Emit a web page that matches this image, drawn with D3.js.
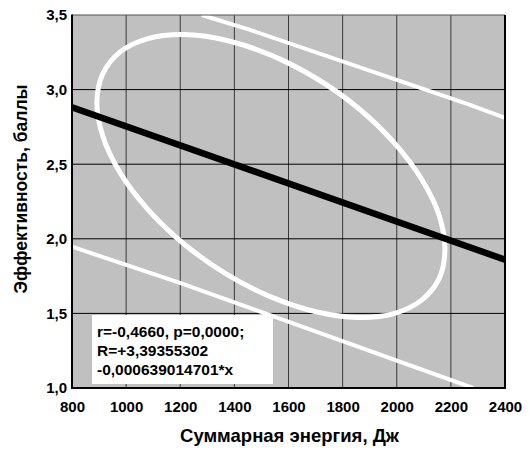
<!DOCTYPE html>
<html>
<head>
<meta charset="utf-8">
<script src="https://cdn.jsdelivr.net/npm/d3@7"></script>
<style>
  body { margin: 0; background: #fff; }
  svg { display: block; font-family: "Liberation Sans", Arial, sans-serif; font-weight: bold; }
</style>
</head>
<body>
<div id="chart"></div>
<script>
// ---- data ----
const xTicks = [800, 1000, 1200, 1400, 1600, 1800, 2000, 2200, 2400];
const yTicks = [1.0, 1.5, 2.0, 2.5, 3.0, 3.5];

// regression line endpoints
const fitX = [800, 2400];
const fitY = [2.882, 1.860];

// prediction band lines (white)
const upperX = [1280, 1458, 2271, 2400];
const upperY = [3.50, 3.40, 2.897, 2.81];
const lowerX = [800, 1199, 2282];
const lowerY = [1.947, 1.704, 1.0];

// confidence ellipse outline
const ellipseX = [2178, 2157, 2092, 1990, 1857, 1702, 1535, 1369, 1214, 1081, 978, 914,
                  892, 914, 978, 1081, 1214, 1369, 1535, 1702, 1857, 1990, 2092, 2157];
const ellipseY = [1.928, 1.735, 1.589, 1.499, 1.473, 1.511, 1.611, 1.765, 1.965, 2.196, 2.442, 2.687,
                  2.914, 3.107, 3.253, 3.342, 3.369, 3.331, 3.231, 3.076, 2.877, 2.645, 2.399, 2.155];

const statLines = ["r=-0,4660, p=0,0000;", "R=+3,39355302", "-0,000639014701*x"];
const xTitle = "Суммарная энергия, Дж";
const yTitle = "Эффективность, баллы";

// ---- drawing ----
const width = 529, height = 450;
const margin = { top: 15, right: 24, bottom: 62, left: 72 };
const x0 = margin.left, x1 = width - margin.right;
const y0 = margin.top, y1 = height - margin.bottom;

const svg = d3.select("#chart").append("svg")
  .attr("width", width)
  .attr("height", height);

const x = d3.scaleLinear().domain([800, 2400]).range([x0, x1]);
const y = d3.scaleLinear().domain([1.0, 3.5]).range([y1, y0]);
const comma = v => d3.format(".1f")(v).replace(".", ",");

svg.append("defs").append("clipPath").attr("id", "plotClip")
  .append("rect")
  .attr("x", x0).attr("y", y0)
  .attr("width", x1 - x0).attr("height", y1 - y0);

// background
svg.append("rect")
  .attr("x", x0).attr("y", y0)
  .attr("width", x1 - x0).attr("height", y1 - y0)
  .attr("fill", "#c0c0c0");

// grid
svg.append("g").selectAll("line")
  .data(xTicks.slice(1, -1))
  .join("line")
  .attr("x1", d => x(d)).attr("x2", d => x(d))
  .attr("y1", y0).attr("y2", y1)
  .attr("stroke", "#3a3a3a").attr("stroke-width", 1);

svg.append("g").selectAll("line")
  .data(yTicks.slice(1, -1))
  .join("line")
  .attr("x1", x0).attr("x2", x1)
  .attr("y1", d => y(d)).attr("y2", d => y(d))
  .attr("stroke", "#000").attr("stroke-width", 1);

const plotG = svg.append("g").attr("clip-path", "url(#plotClip)");
const line = d3.line().x(d => x(d[0])).y(d => y(d[1]));

// bands
plotG.append("path")
  .attr("d", line(d3.zip(upperX, upperY)))
  .attr("fill", "none").attr("stroke", "#fff").attr("stroke-width", 4);
plotG.append("path")
  .attr("d", line(d3.zip(lowerX, lowerY)))
  .attr("fill", "none").attr("stroke", "#fff").attr("stroke-width", 4);

// ellipse
plotG.append("path")
  .attr("d", line.curve(d3.curveCatmullRomClosed)(d3.zip(ellipseX, ellipseY)))
  .attr("fill", "none").attr("stroke", "#fff").attr("stroke-width", 5);

// regression
plotG.append("path")
  .attr("d", d3.line().x(d => x(d[0])).y(d => y(d[1]))(d3.zip(fitX, fitY)))
  .attr("fill", "none").attr("stroke", "#000").attr("stroke-width", 6.5);

// stats box
svg.append("rect")
  .attr("x", 92).attr("y", 315)
  .attr("width", 181).attr("height", 69)
  .attr("fill", "#fff");
svg.append("g").selectAll("text")
  .data(statLines)
  .join("text")
  .attr("x", 97)
  .attr("y", (d, i) => 337 + i * 19)
  .attr("font-size", "15.5px")
  .attr("fill", "#000")
  .text(d => d);

// frame
svg.append("line").attr("x1", x0).attr("x2", x1).attr("y1", y0).attr("y2", y0)
  .attr("stroke", "#555").attr("stroke-width", 1);
svg.append("line").attr("x1", x1).attr("x2", x1).attr("y1", y0).attr("y2", y1)
  .attr("stroke", "#000").attr("stroke-width", 2);
svg.append("line").attr("x1", x0).attr("x2", x0).attr("y1", y0 - 0.5).attr("y2", y1 + 1)
  .attr("stroke", "#000").attr("stroke-width", 2);
svg.append("line").attr("x1", x0 - 1).attr("x2", x1 + 1).attr("y1", y1).attr("y2", y1)
  .attr("stroke", "#000").attr("stroke-width", 2);

// axes
const xAxis = d3.axisBottom(x).tickValues(xTicks).tickSize(0).tickPadding(0).tickFormat(d3.format("d"));
const gx = svg.append("g").attr("transform", `translate(0,${y1})`).call(xAxis);
gx.select(".domain").remove();
gx.selectAll("text")
  .attr("y", 24).attr("dy", null)
  .attr("font-size", "15px").attr("font-weight", "bold")
  .attr("font-family", "'Liberation Sans', Arial, sans-serif")
  .attr("fill", "#000");

const yAxis = d3.axisLeft(y).tickValues(yTicks).tickSize(0).tickPadding(5).tickFormat(comma);
const gy = svg.append("g").attr("transform", `translate(${x0},0)`).call(yAxis);
gy.select(".domain").remove();
gy.selectAll("text")
  .attr("font-size", "15px").attr("font-weight", "bold")
  .attr("font-family", "'Liberation Sans', Arial, sans-serif")
  .attr("fill", "#000");

// titles
svg.append("text")
  .attr("x", 289.5).attr("y", 442)
  .attr("text-anchor", "middle")
  .attr("font-size", "18.5px")
  .text(xTitle);
svg.append("text")
  .attr("transform", "translate(27,189) rotate(-90)")
  .attr("text-anchor", "middle")
  .attr("font-size", "17.5px")
  .text(yTitle);
</script>
</body>
</html>
